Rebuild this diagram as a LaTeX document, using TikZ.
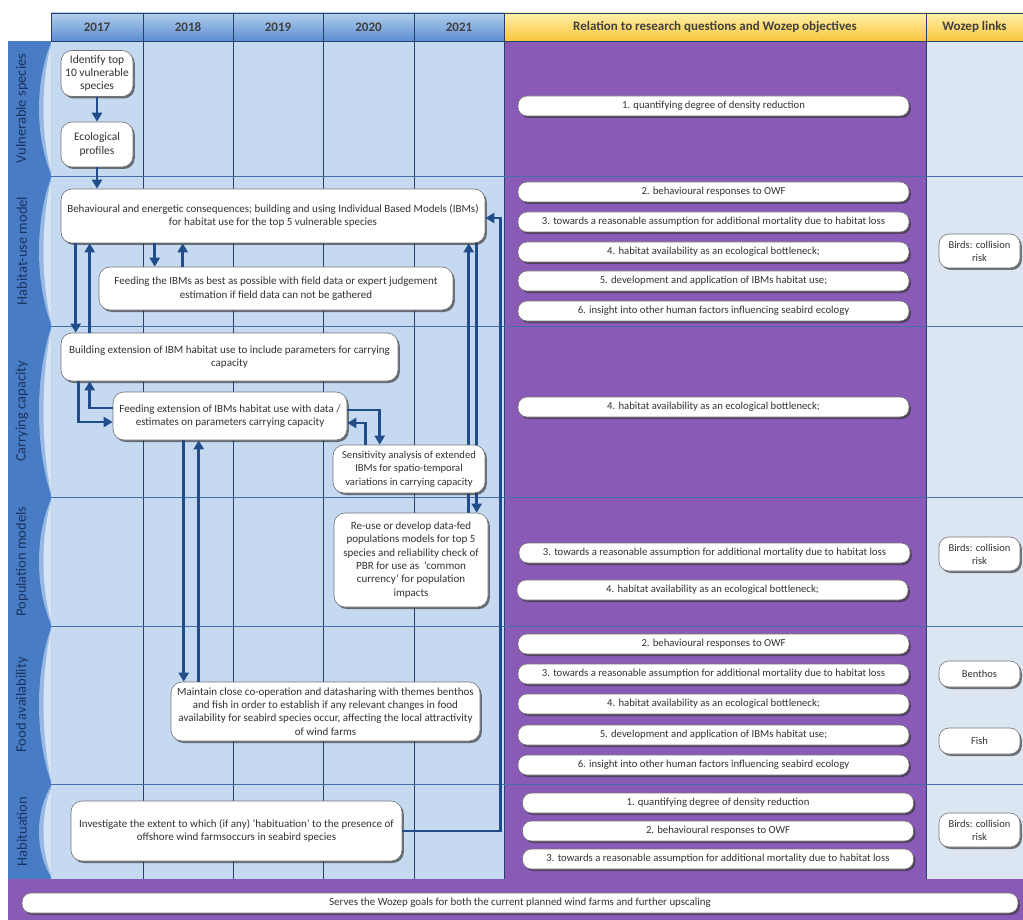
\documentclass[tikz,border=0pt]{standalone}
\usepackage{fontspec}
\setmainfont{Carlito}
\usepackage{tikz}
\usetikzlibrary{calc,arrows.meta,shadows}
\pgfdeclarelayer{behind}
\pgfsetlayers{behind,main}

\definecolor{cellblue}{RGB}{197,217,241}
\definecolor{gridnavy}{RGB}{38,64,110}
\definecolor{rowline}{RGB}{70,110,170}
\definecolor{stripblue}{RGB}{72,124,196}
\definecolor{stripcurve}{RGB}{150,185,228}
\definecolor{labelnavy}{RGB}{28,52,96}
\definecolor{headtop}{RGB}{178,206,238}
\definecolor{headbot}{RGB}{92,142,208}
\definecolor{goldtop}{RGB}{255,240,170}
\definecolor{goldbot}{RGB}{250,198,60}
\definecolor{relpurple}{RGB}{137,91,182}
\definecolor{linkblue}{RGB}{220,230,243}
\definecolor{arrowblue}{RGB}{33,78,138}
\definecolor{boxtext}{RGB}{50,50,50}

\begin{document}
\begin{tikzpicture}[x=1pt,y=-1pt,
	taskbox/.style={draw=black!55, line width=0.6pt, fill=white, rounded corners=11pt,
		drop shadow={shadow xshift=1.8pt,shadow yshift=-2pt,fill=black!80,opacity=0.65},
		align=center, text=boxtext, font=\fontsize{11}{13.3}\selectfont, inner sep=2pt},
	goalbox/.style={taskbox, minimum width=391pt, minimum height=20pt, rounded corners=9pt,
		font=\fontsize{10.7}{13}\selectfont},
	linkbox/.style={taskbox, minimum width=81pt, minimum height=34pt, rounded corners=10pt,
		font=\fontsize{10.5}{13}\selectfont},
	yearhead/.style={draw=gridnavy, line width=0.6pt, top color=headtop, bottom color=headbot,
		minimum height=28pt, font=\fontsize{13}{15}\selectfont\bfseries, text=black!75},
	goldhead/.style={yearhead, top color=goldtop, bottom color=goldbot},
	rowlabel/.style={rotate=90, font=\fontsize{14.5}{16}\selectfont, text=labelnavy},
	flow/.style={draw=arrowblue, line width=2.8pt, -{Triangle[width=10pt,length=9pt]}}]
			
			\useasboundingbox (0,0) rectangle (1023,920);
			\begin{pgfonlayer}{behind}
			% background of the three column blocks
			\fill[cellblue] (51,41) rectangle (504,879);
			\fill[relpurple] (504,41) rectangle (926,879);
			\fill[linkblue] (926,41) rectangle (1023,879);
			
			% year columns and row lines
			\foreach \cx in {143,233,323,414,504}
				\draw[gridnavy, line width=0.7pt] (\cx,41) -- (\cx,879);
			\draw[gridnavy, line width=0.7pt] (926,41) -- (926,879);
			\foreach \ry in {176,326,497,626,784}
				\draw[rowline, line width=0.8pt] (51,\ry) -- (1023,\ry);
			\end{pgfonlayer}
			
			% header
			\node[yearhead, minimum width=92pt] (h2017) at (97,27) {2017};
			\node[yearhead, minimum width=90pt] (h2018) at (188,27) {2018};
			\node[yearhead, minimum width=90pt] (h2019) at (278,27) {2019};
			\node[yearhead, minimum width=91pt] (h2020) at (368.5,27) {2020};
			\node[yearhead, minimum width=90pt] (h2021) at (459,27) {2021};
			\node[goldhead, minimum width=422pt] (hrel) at (715,27) {Relation to research questions and Wozep objectives};
			\node[goldhead, minimum width=97pt] (hlink) at (974.5,27) {Wozep links};
			
			% left strip with a curved edge per row
			\fill[stripblue] (8,41) rectangle (51,879);
			\foreach \t/\b in {41/176,176/326,326/497,497/626,626/784,784/879}{
				\fill[stripcurve] (51,\t+2) .. controls (35,{\t+0.3*(\b-\t)}) and (35,{\b-0.3*(\b-\t)}) .. (51,\b-2) -- cycle;
				\fill[cellblue!70!white] (51,\t+5) .. controls (41,{\t+0.3*(\b-\t)}) and (41,{\b-0.3*(\b-\t)}) .. (51,\b-5) -- cycle;
			}
			\node[rowlabel] (lvul) at (22,108.5) {Vulnerable species};
			\node[rowlabel] (lhab) at (22,251) {Habitat-use model};
			\node[rowlabel] (lcar) at (22,411.5) {Carrying capacity};
			\node[rowlabel] (lpop) at (22,561.5) {Population models};
			\node[rowlabel] (lfood) at (22,705) {Food availability};
			\node[rowlabel] (lhabit) at (22,831.5) {Habituation};
			
			% bottom band
			\fill[relpurple] (8,879) rectangle (1023,920);
			
			% boxes of the time line
			\node[taskbox, minimum width=72pt, minimum height=46pt, font=\fontsize{11.5}{13.3}\selectfont] (ident) at (97,73.5) {Identify top\\10 vulnerable\\species};
			\node[taskbox, minimum width=72pt, minimum height=45pt, font=\fontsize{11.5}{13.3}\selectfont] (eco) at (97,144.5) {Ecological\\profiles};
			\node[taskbox, minimum width=424pt, minimum height=54pt] (behav) at (273,216) {Behavioural and energetic consequences; building and using Individual Based Models (IBMs)\\for habitat use for the top 5 vulnerable species};
			\node[taskbox, minimum width=354pt, minimum height=43pt] (feedibm) at (276,288.5) {Feeding the IBMs as best as possible with field data or expert judgement\\estimation if field data can not be gathered};
			\node[taskbox, minimum width=337pt, minimum height=48pt] (build) at (229.5,357) {Building extension of IBM habitat use to include parameters for carrying\\capacity};
			\node[taskbox, minimum width=234pt, minimum height=48pt] (feedext) at (230,416) {Feeding extension of IBMs habitat use with data /\\estimates on parameters carrying capacity};
			\node[taskbox, minimum width=152pt, minimum height=48pt, font=\fontsize{10.6}{13.3}\selectfont] (sens) at (409,469) {Sensitivity analysis of extended\\IBMs for spatio-temporal\\variations in carrying capacity};
			\node[taskbox, minimum width=154pt, minimum height=94pt] (reuse) at (411,560) {Re-use or develop data-fed\\populations models for top 5\\species and reliability check of\\PBR for use as \ ‘common\\currency’ for population\\impacts};
			\node[taskbox, minimum width=309pt, minimum height=59pt] (maintain) at (325.5,711.5) {Maintain close co-operation and datasharing with themes benthos\\and fish in order to establish if any relevant changes in food\\availability for seabird species occur, affecting the local attractivity\\of wind farms};
			\node[taskbox, minimum width=331pt, minimum height=60pt] (invest) at (236.5,831) {Investigate the extent to which (if any) ‘habituation’ to the presence of\\offshore wind farmsoccurs in seabird species};
			\node[taskbox, minimum width=996pt, minimum height=20pt, rounded corners=9pt, font=\fontsize{10.9}{13}\selectfont] (serves) at (520,903) {Serves the Wozep goals for both the current planned wind farms and further upscaling};
			
			% objectives per row
			\node[goalbox] (ov1) at (713.5,106) {1. quantifying degree of density reduction};
			\node[goalbox] (oh2) at (713.5,192) {2. behavioural responses to OWF};
			\node[goalbox] (oh3) at (713.5,222) {3. towards a reasonable assumption for additional mortality due to habitat loss};
			\node[goalbox] (oh4) at (713.5,252) {4. habitat availability as an ecological bottleneck;};
			\node[goalbox] (oh5) at (713.5,281) {5. development and application of IBMs habitat use;};
			\node[goalbox] (oh6) at (713.5,311) {6. insight into other human factors influencing seabird ecology};
			\node[goalbox] (oc4) at (713.5,407) {4. habitat availability as an ecological bottleneck;};
			\node[goalbox] (op3) at (714.5,553) {3. towards a reasonable assumption for additional mortality due to habitat loss};
			\node[goalbox] (op4) at (712.5,590) {4. habitat availability as an ecological bottleneck;};
			\node[goalbox] (of2) at (713.5,644) {2. behavioural responses to OWF};
			\node[goalbox] (of3) at (713.5,674) {3. towards a reasonable assumption for additional mortality due to habitat loss};
			\node[goalbox] (of4) at (713.5,704) {4. habitat availability as an ecological bottleneck;};
			\node[goalbox] (of5) at (713.5,735) {5. development and application of IBMs habitat use;};
			\node[goalbox] (of6) at (713.5,765) {6. insight into other human factors influencing seabird ecology};
			\node[goalbox] (ob1) at (718,803) {1. quantifying degree of density reduction};
			\node[goalbox] (ob2) at (718,831) {2. behavioural responses to OWF};
			\node[goalbox] (ob3) at (718,859) {3. towards a reasonable assumption for additional mortality due to habitat loss};
			
			% Wozep links
			\node[linkbox] (lkhab) at (979.5,251) {Birds: collision\\risk};
			\node[linkbox] (lkpop) at (979.5,554) {Birds: collision\\risk};
			\node[linkbox, minimum height=26pt] (lkben) at (979.5,674) {Benthos};
			\node[linkbox, minimum height=26pt] (lkfish) at (979.5,741) {Fish};
			\node[linkbox] (lkhabit) at (979.5,830) {Birds: collision\\risk};
			
			% arrows between the boxes
			\draw[flow] (ident) -- (eco);
			\draw[flow] (eco.south) -- (eco.south |- behav.north);
			\draw[flow] ([xshift=15pt]behav.south west) -- ([xshift=15pt]build.north west);
			\draw[flow] ([xshift=29pt]build.north west) -- ([xshift=29pt]behav.south west);
			\draw[flow] ([xshift=56pt]feedibm.north west |- behav.south) -- ([xshift=56pt]feedibm.north west);
			\draw[flow] ([xshift=84pt]feedibm.north west) -- ([xshift=84pt]feedibm.north west |- behav.south);
			\draw[flow] ([xshift=18pt]build.south west) |- ([yshift=-6pt]feedext.west);
			\draw[flow] ([yshift=8pt]feedext.west) -| ([xshift=29pt]build.south west);
			\draw[flow] ([yshift=6pt]feedext.east) -| ([xshift=47pt]sens.north west);
			\draw[flow] ([xshift=33pt]sens.north west) |- ([yshift=-7pt]feedext.east);
			\draw[flow] ([xshift=71pt]feedext.south west) -- ([xshift=71pt]feedext.south west |- maintain.north);
			\draw[flow] ([xshift=86pt]feedext.south west |- maintain.north) -- ([xshift=86pt]feedext.south west);
			% the two long ones run behind the sensitivity box
			\begin{pgfonlayer}{behind}
			\draw[flow] ([xshift=143pt]reuse.north west |- behav.south) -- ([xshift=143pt]reuse.north west);
			\draw[flow] ([xshift=135pt]reuse.north west) -- ([xshift=135pt]reuse.north west |- behav.south);
			\end{pgfonlayer}
			\draw[flow] (invest.east) -- ++(98,0) |- ([yshift=-2pt]behav.east);
			
\end{tikzpicture}
\end{document}
